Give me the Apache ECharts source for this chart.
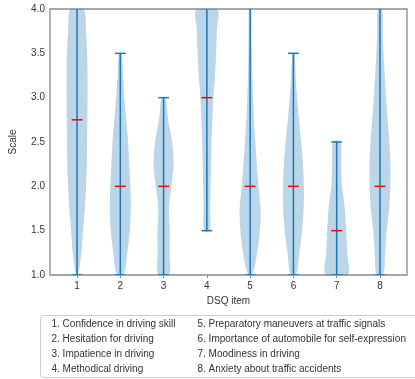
<!DOCTYPE html>
<html>
<head>
<meta charset="utf-8">
<script src="https://cdn.jsdelivr.net/npm/echarts@6/dist/echarts.min.js"></script>
<style>
  html, body { margin: 0; padding: 0; background: #fff; }
  #chart { width: 415px; height: 379px; }
</style>
</head>
<body>
<div id="chart"></div>
<script>
// DSQ items and stats
const items = [1, 2, 3, 4, 5, 6, 7, 8];
const mins = [1, 1, 1, 1.5, 1, 1, 1, 1];
const maxs = [5, 3.5, 3.0, 5, 5, 3.5, 2.5, 5];
const medians = [2.75, 2.0, 2.0, 3.0, 2.0, 2.0, 1.5, 2.0];

// violin half-widths (relative to the widest) at these scale levels
const levels = [1.0, 1.25, 1.5, 1.75, 2.0, 2.25, 2.5, 2.75, 3.0, 3.25, 3.5, 3.75, 4.0];
const widths = [
  [0.1, 0.4, 0.55, 0.72, 0.83, 0.9, 0.93, 0.95, 0.97, 0.97, 0.93, 0.82, 0.6],
  [0.3, 0.65, 0.88, 0.97, 0.93, 0.83, 0.72, 0.55, 0.38, 0.25, 0.12, null, null],
  [0.5, 0.55, 0.57, 0.5, 0.72, 0.93, 0.78, 0.42, 0.18, null, null, null, null],
  [null, null, 0.25, 0.3, 0.34, 0.38, 0.43, 0.5, 0.6, 0.75, 0.86, 0.92, 0.95],
  [0.2, 0.65, 0.9, 0.97, 0.77, 0.62, 0.48, 0.35, 0.27, 0.2, 0.16, 0.13, 0.1],
  [0.25, 0.55, 0.8, 0.95, 0.97, 0.88, 0.72, 0.52, 0.34, 0.2, 0.08, null, null],
  [1.0, 0.97, 0.88, 0.75, 0.5, 0.42, 0.35, null, null, null, null, null, null],
  [0.3, 0.48, 0.62, 0.85, 0.95, 0.97, 0.87, 0.72, 0.57, 0.45, 0.33, 0.26, 0.2]
];

const itemNames = [
  '1. Confidence in driving skill',
  '2. Hesitation for driving',
  '3. Impatience in driving',
  '4. Methodical driving',
  '5. Preparatory maneuvers at traffic signals',
  '6. Importance of automobile for self-expression',
  '7. Moodiness in driving',
  '8. Anxiety about traffic accidents'
];

const yTicks = [1.0, 1.5, 2.0, 2.5, 3.0, 3.5, 4.0];

const blue = '#1f77b4';
const HALF = 0.25; // max half width in x units
const CAP = 0.125;

const chart = echarts.init(document.getElementById('chart'));

function renderViolin(params, api) {
  const i = params.dataIndex;
  const x = api.value(0);
  const lo = api.value(1), hi = api.value(2), med = api.value(3);
  const w = widths[i];
  const left = [], right = [];
  levels.forEach((y, k) => {
    if (w[k] == null) return;
    left.push(api.coord([x - w[k] * HALF, y]));
    right.unshift(api.coord([x + w[k] * HALF, y]));
  });
  const top = api.coord([x, hi]);
  const bot = api.coord([x, lo]);
  const capL = api.coord([x - CAP, 0])[0];
  const capR = api.coord([x + CAP, 0])[0];
  const medY = api.coord([x, med])[1];
  const line = { stroke: blue, lineWidth: 1.5 };
  return {
    type: 'group',
    children: [
      {
        type: 'polygon',
        shape: { points: left.concat(right), smooth: 0.35 },
        style: { fill: 'rgba(31,119,180,0.3)' }
      },
      { type: 'line', shape: { x1: bot[0], y1: bot[1], x2: top[0], y2: top[1] }, style: line },
      { type: 'line', shape: { x1: capL, y1: top[1], x2: capR, y2: top[1] }, style: line },
      { type: 'line', shape: { x1: capL, y1: bot[1], x2: capR, y2: bot[1] }, style: line },
      { type: 'line', shape: { x1: capL, y1: medY, x2: capR, y2: medY }, style: { stroke: '#ff0000', lineWidth: 1.5 } }
    ]
  };
}

const legendChildren = [
  {
    type: 'rect',
    shape: { x: 0, y: 0, width: 392, height: 62, r: 3 },
    style: { fill: '#fff', stroke: '#cccccc', lineWidth: 1 }
  }
];
itemNames.forEach((t, k) => {
  legendChildren.push({
    type: 'text',
    x: k < 4 ? 11 : 157,
    y: 9 + (k % 4) * 15,
    style: {
      text: t, fill: '#333', font: '10px "Liberation Sans", Arial, sans-serif',
      verticalAlign: 'middle'
    }
  });
});

chart.setOption({
  backgroundColor: '#fff',
  animation: false,
  grid: {
    left: 49, right: 8, top: 9, bottom: 104,
    show: true, borderColor: '#8a8a8a', borderWidth: 1.3, backgroundColor: 'transparent'
  },
  xAxis: {
    type: 'value', min: 0.375, max: 8.625,
    name: 'DSQ item', nameLocation: 'middle', nameGap: 21,
    nameTextStyle: { color: '#333', fontSize: 10, fontFamily: 'Liberation Sans' },
    axisLine: { show: false },
    splitLine: { show: false },
    axisTick: { show: true, customValues: items, length: 3, lineStyle: { color: '#8a8a8a' } },
    axisLabel: { customValues: items, color: '#333', fontSize: 10, fontFamily: 'Liberation Sans', margin: 6 }
  },
  yAxis: {
    type: 'value', min: 1, max: 4, interval: 0.5,
    name: 'Scale', nameLocation: 'middle', nameGap: 32,
    nameTextStyle: { color: '#333', fontSize: 10, fontFamily: 'Liberation Sans' },
    axisLine: { show: false },
    axisTick: { show: false },
    splitLine: { show: false },
    axisLabel: {
      customValues: yTicks,
      formatter: v => v.toFixed(1), color: '#333', fontSize: 10, fontFamily: 'Liberation Sans', margin: 5
    }
  },
  series: [{
    type: 'custom',
    clip: true,
    renderItem: renderViolin,
    encode: { x: 0, y: [1, 2, 3] },
    data: items.map((x, i) => [x, mins[i], maxs[i], medians[i]])
  }],
  graphic: [{
    type: 'group', left: 40, top: 315,
    children: legendChildren
  }]
});
</script>
</body>
</html>
